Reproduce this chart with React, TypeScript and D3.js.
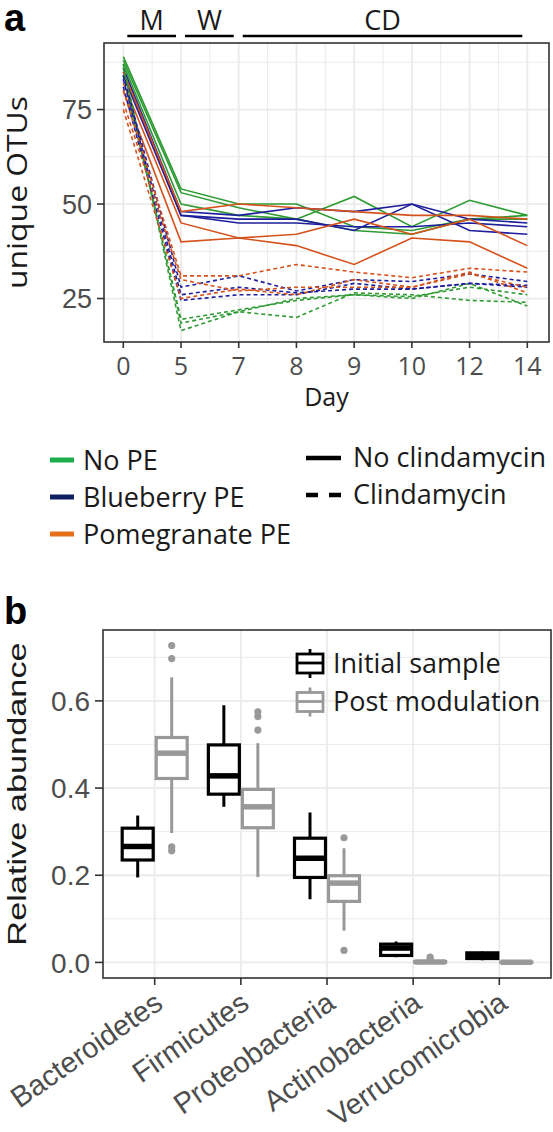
import React from "react";
import * as d3 from "d3";

// ---------- Panel a data ----------
const days = ["0", "5", "7", "8", "9", "10", "12", "14"];
const groups = ["No PE", "Blueberry PE", "Pomegranate PE"];
const treatments = ["No clindamycin", "Clindamycin"];

// OTU counts per day, three replicates per group
const noPeSolid = [
  [89, 54, 50, 50, 44, 43, 46, 47],
  [88, 53, 49, 46, 52, 44, 51, 47],
  [87, 50, 47, 46, 43, 42, 46, 46],
];
const blueberrySolid = [
  [86, 48, 47, 49, 48, 50, 46, 45],
  [85, 47, 46, 46, 43, 50, 43, 42],
  [84, 47, 45, 45, 44, 44, 45, 44],
];
const pomegranateSolid = [
  [85, 48, 50, 49, 48, 47, 47, 46],
  [82, 45, 41, 42, 46, 42, 46, 39],
  [80, 40, 41, 39, 34, 41, 40, 33],
];
const noPeDashed = [
  [87, 16.5, 21.5, 25, 26, 25.5, 28, 26],
  [86, 18.5, 21.5, 20, 26.5, 26, 24.5, 24],
  [84, 19.5, 22, 24.5, 26, 25, 29, 23],
];
const blueberryDashed = [
  [84, 28, 31, 27, 30, 29.5, 31.5, 29.5],
  [83, 26, 28, 26.5, 27.5, 27.5, 29, 28.5],
  [81, 24.5, 26, 26, 29, 27.5, 29, 28],
];
const pomegranateDashed = [
  [80, 31, 31, 34, 32, 30.5, 33, 32],
  [77, 30, 27, 28, 28, 28, 31.5, 28],
  [75, 25, 27.5, 26, 30, 28, 32, 26.5],
];
const yTicksA = [25, 50, 75];
const phases = [
  { label: "M", from: "0", to: "5" },
  { label: "W", from: "5", to: "7" },
  { label: "CD", from: "7", to: "14" },
];

// ---------- Panel b data ----------
const phyla = ["Bacteroidetes", "Firmicutes", "Proteobacteria", "Actinobacteria", "Verrucomicrobia"];
const sampleTypes = ["Initial sample", "Post modulation"];
// [lower whisker, q1, median, q3, upper whisker]
const initialStats = [
  [0.195, 0.235, 0.266, 0.308, 0.337],
  [0.357, 0.386, 0.428, 0.499, 0.59],
  [0.145, 0.195, 0.239, 0.285, 0.344],
  [0.012, 0.016, 0.033, 0.042, 0.048],
  [0.005, 0.009, 0.014, 0.022, 0.025],
];
const postStats = [
  [0.297, 0.422, 0.48, 0.516, 0.654],
  [0.196, 0.309, 0.357, 0.397, 0.503],
  [0.073, 0.14, 0.182, 0.199, 0.262],
  [0, 0.0005, 0.001, 0.002, 0.004],
  [0, 0, 0.0005, 0.001, 0.002],
];
const initialOutliers = [[], [], [], [], []];
const postOutliers = [
  [0.697, 0.727, 0.265, 0.256],
  [0.533, 0.564, 0.575],
  [0.286, 0.0275],
  [0.012, 0.008],
  [],
];
const yTicksB = [0.0, 0.2, 0.4, 0.6];

const lineColors = ["#2e9b33", "#1e1e9c", "#d6521c"];
const legendColors = ["#1caf4b", "#0e2062", "#e6701a"];
const boxColors = ["#000000", "#999999"];
const grid = "#ebebeb";
const tickText = "#4d4d4d";
const sans = "'Liberation Sans', Arial, sans-serif";
const humanist = "'Open Sans', sans-serif";

export default function App() {
  // ---- panel a geometry
  const aL = 104, aR = 549, aT = 43, aB = 342;
  const x = d3.scalePoint<string>().domain(days).range([123.3, 527.3]);
  const y = d3.scaleLinear().domain([13.5, 92.6]).range([aB, aT]);
  const step = x.step();
  const line = d3
    .line<number>()
    .x((_, i) => x(days[i]) as number)
    .y((d) => y(d));

  const seriesSets = [
    { data: noPeSolid, g: 0, t: 0 },
    { data: blueberrySolid, g: 1, t: 0 },
    { data: pomegranateSolid, g: 2, t: 0 },
    { data: noPeDashed, g: 0, t: 1 },
    { data: blueberryDashed, g: 1, t: 1 },
    { data: pomegranateDashed, g: 2, t: 1 },
  ];

  const xGridA: number[] = [];
  days.forEach((d, i) => {
    xGridA.push(x(d) as number);
    if (i < days.length - 1) xGridA.push((x(d) as number) + step / 2);
  });
  const yMinorA = [37.5, 62.5, 87.5];

  // ---- panel b geometry
  const bL = 103, bR = 551, bT = 630, bB = 978;
  const cx = d3.scalePoint<string>().domain(phyla).range([154.7, 499.3]);
  const yb = d3.scaleLinear().domain([-0.0357, 0.7626]).range([bB, bT]);
  const yMinorB = [0.1, 0.3, 0.5, 0.7];
  const dodge = 17;
  const halfW = 15.5;

  const renderBox = (stats: number[], outl: number[], c: number, color: string, key: string) => {
    const [lo, q1, med, q3, hi] = stats;
    return (
      <g key={key}>
        <line x1={c} x2={c} y1={yb(hi)} y2={yb(q3)} stroke={color} strokeWidth={3} />
        <line x1={c} x2={c} y1={yb(q1)} y2={yb(lo)} stroke={color} strokeWidth={3} />
        <rect
          x={c - halfW}
          width={halfW * 2}
          y={yb(q3)}
          height={Math.max(0.1, yb(q1) - yb(q3))}
          fill="#ffffff"
          stroke={color}
          strokeWidth={3.2}
        />
        <line x1={c - halfW} x2={c + halfW} y1={yb(med)} y2={yb(med)} stroke={color} strokeWidth={5.5} />
        {outl.map((o, i) => (
          <circle key={i} cx={c} cy={yb(o)} r={3.6} fill={color} />
        ))}
      </g>
    );
  };

  const legRowsA = [460, 497, 534];

  return (
    <svg
      width={553}
      height={1132}
      style={{ position: "absolute", left: 0, top: 0, background: "#ffffff" }}
    >
      <rect width={553} height={1132} fill="#ffffff" />
      {/* ================= PANEL A ================= */}
      <text x={4} y={31} fontFamily={sans} fontWeight="bold" fontSize={38} fill="#000">a</text>
      {phases.map((p) => {
        const x1 = (x(p.from) as number) + 4;
        const x2 = (x(p.to) as number) - 5;
        return (
          <g key={p.label}>
            <line x1={x1} x2={x2} y1={36} y2={36} stroke="#000" strokeWidth={2.5} />
            <text x={(x1 + x2) / 2} y={30} textAnchor="middle" fontFamily={humanist} fontSize={27} fill="#1a1a1a">
              {p.label}
            </text>
          </g>
        );
      })}
      <g>
        {yMinorA.map((v) => (
          <line key={"ym" + v} x1={aL} x2={aR} y1={y(v)} y2={y(v)} stroke={grid} strokeWidth={1} />
        ))}
        {xGridA.map((g, i) => (
          <line key={"xg" + i} x1={g} x2={g} y1={aT} y2={aB} stroke={grid} strokeWidth={i % 2 === 0 ? 1.8 : 1} />
        ))}
        {yTicksA.map((v) => (
          <line key={"yg" + v} x1={aL} x2={aR} y1={y(v)} y2={y(v)} stroke={grid} strokeWidth={1.8} />
        ))}
      </g>
      <g fill="none">
        {seriesSets.map((s, si) =>
          s.data.map((vals, vi) => (
            <path
              key={si + "-" + vi}
              d={line(vals) as string}
              stroke={lineColors[s.g]}
              strokeWidth={1.6}
              strokeDasharray={s.t === 1 ? "4 3" : undefined}
            />
          ))
        )}
      </g>
      <rect x={aL} y={aT} width={aR - aL} height={aB - aT} fill="none" stroke="#333333" strokeWidth={1.6} />
      {yTicksA.map((v) => (
        <g key={"yt" + v}>
          <line x1={aL - 7} x2={aL} y1={y(v)} y2={y(v)} stroke="#333" strokeWidth={1.6} />
          <text x={aL - 12} y={y(v)} dy="0.36em" textAnchor="end" fontFamily={sans} fontSize={27} fill={tickText}>
            {v}
          </text>
        </g>
      ))}
      {days.map((d) => (
        <g key={"xt" + d}>
          <line x1={x(d)} x2={x(d)} y1={aB} y2={aB + 6} stroke="#333" strokeWidth={1.6} />
          <text x={x(d)} y={aB + 33} textAnchor="middle" fontFamily={humanist} fontSize={25} fill={tickText}>
            {d}
          </text>
        </g>
      ))}
      <text x={(aL + aR) / 2} y={406} textAnchor="middle" fontFamily={humanist} fontSize={25} fill="#1a1a1a">
        Day
      </text>
      <text
        transform={`translate(27, ${(aT + aB) / 2}) rotate(-90) scale(1.18, 1)`}
        textAnchor="middle"
        fontFamily={humanist}
        fontSize={27}
        fill="#1a1a1a"
      >
        unique OTUs
      </text>

      {/* legend a */}
      {groups.map((g, i) => (
        <g key={"lg" + g}>
          <line x1={50} x2={74} y1={legRowsA[i]} y2={legRowsA[i]} stroke={legendColors[i]} strokeWidth={5} />
          <text x={83} y={legRowsA[i]} dy="0.36em" fontFamily={humanist} fontSize={27} fill="#1a1a1a">
            {g}
          </text>
        </g>
      ))}
      {treatments.map((t, i) => (
        <g key={"lt" + t}>
          <line
            x1={306}
            x2={341}
            y1={legRowsA[i] - 2}
            y2={legRowsA[i] - 2}
            stroke="#000"
            strokeWidth={4.5}
            strokeDasharray={i === 1 ? "12 11" : undefined}
          />
          <text x={353} y={legRowsA[i] - 3} dy="0.36em" fontFamily={humanist} fontSize={27} fill="#1a1a1a">
            {t}
          </text>
        </g>
      ))}

      {/* ================= PANEL B ================= */}
      <text x={4} y={624} fontFamily={sans} fontWeight="bold" fontSize={38} fill="#000">b</text>
      <g>
        {yMinorB.map((v) => (
          <line key={"bm" + v} x1={bL} x2={bR} y1={yb(v)} y2={yb(v)} stroke={grid} strokeWidth={1} />
        ))}
        {yTicksB.map((v) => (
          <line key={"bg" + v} x1={bL} x2={bR} y1={yb(v)} y2={yb(v)} stroke={grid} strokeWidth={1.8} />
        ))}
        {phyla.map((p) => (
          <line key={"bx" + p} x1={cx(p)} x2={cx(p)} y1={bT} y2={bB} stroke={grid} strokeWidth={1.8} />
        ))}
      </g>
      {phyla.map((p, i) => {
        const c = cx(p) as number;
        return (
          <g key={"box" + p}>
            {renderBox(initialStats[i], initialOutliers[i], c - dodge, boxColors[0], "i")}
            {renderBox(postStats[i], postOutliers[i], c + dodge, boxColors[1], "p")}
          </g>
        );
      })}
      {/* legend b */}
      {sampleTypes.map((s, i) => {
        const cy = 663 + i * 38.5;
        const kx = 310;
        return (
          <g key={"lb" + s}>
            <line x1={kx} x2={kx} y1={cy - 14} y2={cy + 15} stroke={boxColors[i]} strokeWidth={2.8} />
            <rect x={kx - 13} y={cy - 9} width={26} height={19} fill="#fff" stroke={boxColors[i]} strokeWidth={2.8} />
            <line x1={kx - 13} x2={kx + 13} y1={cy} y2={cy} stroke={boxColors[i]} strokeWidth={2.8} />
            <text x={333} y={cy} dy="0.36em" fontFamily={humanist} fontSize={27} fill="#1a1a1a">
              {s}
            </text>
          </g>
        );
      })}
      <rect x={bL} y={bT} width={bR - bL} height={bB - bT} fill="none" stroke="#333333" strokeWidth={1.6} />
      {yTicksB.map((v) => (
        <g key={"byt" + v}>
          <line x1={bL - 8} x2={bL} y1={yb(v)} y2={yb(v)} stroke="#333" strokeWidth={1.6} />
          <text x={bL - 13} y={yb(v)} dy="0.36em" textAnchor="end" fontFamily={sans} fontSize={28} fill={tickText}>
            {v.toFixed(1)}
          </text>
        </g>
      ))}
      {phyla.map((p) => (
        <g key={"bxt" + p}>
          <line x1={cx(p)} x2={cx(p)} y1={bB} y2={bB + 7} stroke="#333" strokeWidth={1.6} />
          <text
            transform={`translate(${(cx(p) as number) - 2}, ${bB + 12}) rotate(-35)`}
            textAnchor="end"
            dy="0.72em"
            fontFamily={sans}
            fontSize={29}
            fill={tickText}
          >
            {p}
          </text>
        </g>
      ))}
      <text
        transform={`translate(26, ${(bT + bB) / 2 - 10}) rotate(-90) scale(1.32, 1)`}
        textAnchor="middle"
        fontFamily={sans}
        fontSize={26}
        fill="#1a1a1a"
      >
        Relative abundance
      </text>
    </svg>
  );
}
